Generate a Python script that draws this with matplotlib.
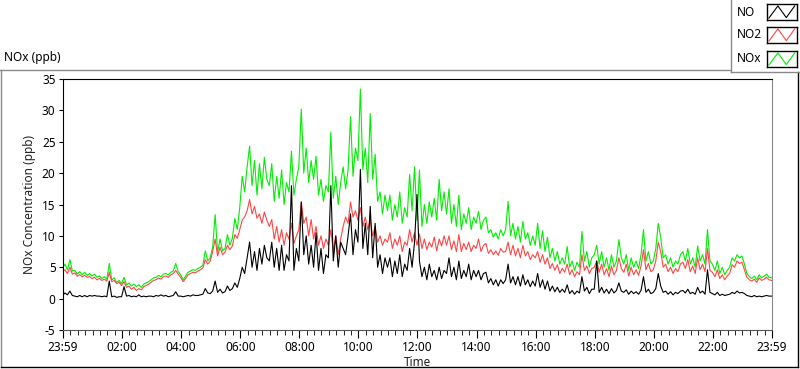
import numpy as np
import matplotlib
matplotlib.use("Agg")
from matplotlib import pyplot as plt
from matplotlib.lines import Line2D

plt.rcParams['font.family'] = ['Noto Sans', 'DejaVu Sans']
plt.rcParams['axes.unicode_minus'] = False

# 5-minute readings from 23:59 to 23:59 next day (289 samples), ppb
step_min = 5
nox_ppb = [
    4.8, 5.5, 4.6, 6.2, 4.4, 4.5, 3.9, 4.3, 3.8, 4.2, 3.7, 4.0,
    3.6, 3.9, 3.4, 3.6, 3.2, 3.5, 3.1, 5.6, 3.0, 3.3, 2.6, 2.9,
    2.4, 3.4, 2.2, 2.5, 2.0, 2.3, 1.9, 2.2, 1.8, 2.3, 2.5, 2.7,
    3.0, 3.3, 3.4, 3.7, 3.5, 3.9, 4.0, 3.8, 4.2, 4.4, 5.6, 4.3,
    3.8, 3.0, 3.6, 4.2, 4.4, 4.6, 4.5, 4.8, 5.0, 5.3, 7.6, 6.0,
    6.5, 8.2, 13.4, 7.4, 9.5, 7.6, 8.0, 10.2, 8.5, 9.6, 12.8, 11.0,
    14.5, 19.5, 17.0, 21.0, 24.3, 18.0, 22.0, 16.5, 21.5, 17.5, 22.5, 19.0,
    18.0, 21.5, 15.5, 19.5, 16.0, 20.5, 15.0, 18.5, 17.0, 23.5, 16.5, 19.0,
    21.0, 30.2, 20.0, 24.0, 18.5, 22.0, 19.0, 22.7, 16.5, 19.0, 15.5, 18.0,
    17.0, 26.5, 16.0, 19.5, 15.0, 18.5, 21.0, 17.5, 20.5, 29.0, 19.5, 24.0,
    22.0, 33.4, 20.5, 24.0, 18.5, 29.5, 19.0, 23.0, 15.5, 17.0, 13.5, 16.5,
    14.0, 16.5, 12.5, 15.0, 13.0, 17.0, 12.0, 14.5, 13.0, 19.8, 14.0, 21.0,
    12.5, 20.5, 11.5, 15.0, 12.0, 15.4, 13.0, 16.0, 12.5, 19.0, 14.0, 17.0,
    13.5, 17.5, 12.0, 15.0, 11.5, 16.5, 11.0, 13.5, 12.0, 14.5, 11.0, 13.0,
    12.0, 13.9, 11.0, 12.5, 13.0, 10.5, 11.0, 9.8, 10.5, 9.5, 11.0, 10.0,
    11.0, 15.5, 10.0, 12.0, 9.5, 11.5, 9.0, 12.3, 9.5, 10.5, 8.5, 10.0,
    8.5, 12.0, 8.0, 10.8, 7.5, 9.8, 6.5, 8.0, 6.0, 7.5, 5.5, 6.5,
    5.5, 8.3, 5.0, 6.0, 4.5, 5.8, 5.0, 10.7, 6.0, 7.5, 5.0, 6.5,
    7.0, 8.5, 5.5, 7.5, 5.0, 6.5, 4.5, 7.0, 5.0, 6.0, 9.4, 6.5,
    5.5, 7.0, 4.5, 6.5, 5.0, 6.0, 4.8, 7.0, 11.0, 6.0, 7.5, 5.5,
    6.0, 8.0, 12.0, 9.8, 6.5, 7.0, 5.5, 6.5, 5.0, 6.0, 5.5, 7.0,
    7.5, 6.0, 8.0, 5.5, 6.5, 5.0, 8.4, 6.0, 7.0, 5.5, 11.0, 6.0,
    5.5, 4.5, 6.0, 4.0, 5.0, 3.8, 4.5, 5.0, 6.5, 6.0, 7.0, 6.5,
    6.8, 5.5, 4.0, 3.5, 3.2, 3.6, 3.0, 3.8, 3.3, 3.6, 3.9, 3.4,
    3.3,
]
no2_ppb = [
    4.3, 4.6, 4.0, 5.0, 3.9, 4.1, 3.6, 3.8, 3.5, 3.7, 3.4, 3.5,
    3.2, 3.4, 3.0, 3.2, 2.9, 3.1, 2.8, 4.2, 2.7, 2.9, 2.4, 2.6,
    2.1, 2.7, 1.8, 2.0, 1.5, 1.8, 1.3, 1.6, 1.4, 1.9, 2.1, 2.3,
    2.6, 2.9, 3.0, 3.3, 3.1, 3.5, 3.6, 3.4, 3.8, 4.0, 4.5, 3.9,
    3.4, 2.7, 3.2, 3.8, 4.0, 4.2, 4.1, 4.4, 4.6, 4.9, 6.2, 5.5,
    6.0, 7.5, 9.5, 6.8, 8.2, 7.0, 7.4, 8.5, 7.8, 8.4, 10.2, 9.6,
    11.0, 12.5, 13.0, 14.0, 15.8, 13.5, 14.7, 12.8, 13.5, 12.0, 13.8, 12.5,
    11.5, 12.6, 9.5, 11.5, 9.0, 11.0, 8.5, 10.5, 9.5, 12.0, 8.8, 10.0,
    11.0, 15.4, 12.0, 13.0, 10.0, 12.6, 9.5, 11.5, 8.5, 10.0, 8.0, 9.5,
    8.5, 11.0, 7.5, 10.0, 7.0, 9.5, 11.5, 13.0, 12.0, 15.4, 13.0, 14.0,
    12.5, 14.5, 11.5, 13.0, 11.0, 12.6, 10.0, 11.5, 9.0, 10.0, 8.5, 9.5,
    9.0, 10.5, 8.0, 9.5, 8.5, 10.0, 7.5, 9.0, 8.5, 11.0, 9.0, 10.5,
    8.5, 10.3, 8.0, 9.5, 7.8, 9.0, 8.2, 9.8, 7.6, 9.5, 8.4, 10.0,
    8.5, 10.0, 7.8, 9.2, 7.5, 10.2, 7.5, 8.8, 7.8, 9.0, 7.5, 8.5,
    8.0, 9.5, 7.5, 8.5, 8.8, 7.2, 7.8, 7.0, 7.6, 6.9, 8.0, 7.4,
    7.5, 9.0, 7.0, 8.5, 6.8, 8.0, 6.5, 8.5, 6.8, 7.5, 6.2, 7.0,
    6.5, 7.5, 5.8, 7.0, 5.5, 6.5, 4.8, 5.6, 4.5, 5.4, 4.0, 4.8,
    4.2, 5.5, 3.8, 4.6, 3.5, 4.3, 3.8, 7.0, 4.5, 5.2, 4.0, 4.8,
    5.0, 6.0, 4.2, 5.5, 3.8, 4.8, 3.5, 5.2, 3.8, 4.5, 6.5, 4.8,
    4.2, 5.5, 3.6, 5.0, 3.8, 4.6, 3.7, 5.2, 7.8, 4.6, 5.6, 4.3,
    4.6, 6.0, 9.0, 7.5, 5.0, 5.5, 4.3, 5.0, 4.0, 4.8, 4.3, 5.5,
    5.8, 4.8, 6.2, 4.3, 5.2, 4.0, 6.5, 4.6, 5.5, 4.3, 8.0, 4.5,
    4.2, 3.5, 4.6, 3.2, 3.8, 3.0, 3.6, 4.0, 5.4, 5.0, 6.0, 5.6,
    5.8, 4.6, 3.4, 3.0, 2.8, 3.1, 2.6, 3.3, 2.9, 3.1, 3.4, 3.0,
    2.9,
]
no_ppb = [
    0.5, 0.9, 0.6, 1.2, 0.5, 0.4, 0.3, 0.5, 0.3, 0.5, 0.3, 0.5,
    0.4, 0.5, 0.4, 0.4, 0.3, 0.4, 0.3, 2.8, 0.3, 0.4, 0.2, 0.3,
    0.3, 1.9, 0.4, 0.5, 0.3, 0.4, 0.3, 0.6, 0.3, 0.4, 0.3, 0.4,
    0.4, 0.3, 0.5, 0.4, 0.6, 0.4, 0.5, 0.3, 0.4, 0.5, 1.1, 0.4,
    0.4, 0.3, 0.4, 0.5, 0.4, 0.6, 0.5, 0.5, 0.6, 0.7, 1.6, 0.9,
    0.8, 1.2, 2.8, 1.0, 1.5, 0.9, 1.1, 2.0, 1.3, 1.6, 2.5, 1.8,
    3.2, 5.0, 4.0, 6.5, 9.0, 5.0, 7.5, 4.5, 8.0, 5.5, 8.5, 6.5,
    6.0, 9.0, 5.0, 8.0, 4.5, 8.5, 4.5, 7.0, 6.0, 18.0, 4.5, 8.0,
    6.0, 15.4, 7.0, 10.0, 5.5, 8.5, 5.0, 10.5, 4.5, 8.0, 4.0, 7.0,
    6.5, 18.0, 6.0, 10.0, 5.0, 9.0, 8.0, 7.0, 10.0, 13.5, 7.0, 11.0,
    9.0, 20.6, 8.0, 12.0, 7.0, 14.7, 6.5, 12.0, 5.0, 7.0, 4.0, 6.5,
    5.0, 6.5, 3.5, 6.0, 4.0, 7.0, 3.5, 5.5, 4.5, 8.0, 5.0, 9.0,
    16.6, 6.0, 3.5, 5.0, 3.0, 5.5, 3.5, 4.5, 3.0, 5.0, 3.2, 4.5,
    4.0, 6.5, 3.5, 5.0, 3.0, 6.0, 3.2, 4.5, 3.5, 5.5, 3.0, 4.5,
    3.5, 4.5, 3.0, 4.0, 4.2, 2.5, 3.2, 2.2, 3.0, 2.0, 3.0, 2.4,
    3.0, 5.5, 2.5, 3.5, 2.2, 3.5, 2.0, 3.8, 2.2, 3.0, 1.9, 2.8,
    2.0, 4.0, 1.8, 3.0, 1.5, 2.8, 1.2, 2.0, 1.1, 1.8, 1.0, 1.5,
    1.0, 2.2, 0.8, 1.3, 0.7, 1.2, 0.9, 3.5, 1.2, 1.8, 0.8, 1.5,
    1.5, 6.0, 1.0, 1.8, 0.9, 1.5, 0.8, 1.6, 0.9, 1.3, 2.5, 1.2,
    1.0, 1.4, 0.7, 1.2, 0.8, 1.1, 0.7, 1.3, 3.5, 1.0, 1.5, 0.8,
    1.0, 1.6, 4.0, 2.0, 1.0, 1.2, 0.7, 1.1, 0.6, 1.0, 0.8, 1.2,
    1.3, 0.9, 1.5, 0.8, 1.0, 0.7, 1.8, 0.9, 1.2, 0.7, 4.6, 1.0,
    0.8, 0.6, 1.0, 0.5, 0.7, 0.5, 0.6, 0.7, 1.0, 0.8, 1.2, 0.9,
    1.0, 0.8, 0.5, 0.4, 0.3, 0.5, 0.3, 0.4, 0.3, 0.4, 0.5, 0.4,
    0.4,
]

# minutes since 23:59 at which the time labels sit
tick_minutes = [0, 121, 241, 361, 481, 601, 721, 841, 961, 1081, 1201, 1321, 1440]
tick_labels = ['23:59', '02:00', '04:00', '06:00', '08:00', '10:00', '12:00',
               '14:00', '16:00', '18:00', '20:00', '22:00', '23:59']
y_ticks = [-5, 0, 5, 10, 15, 20, 25, 30, 35]

series = [('NO', no_ppb, 'black'), ('NO2', no2_ppb, '#ff4646'), ('NOx', nox_ppb, '#00ee00')]

W, H = 800, 369
fig = plt.figure(figsize=(W / 100, H / 100), dpi=100)
fig.patch.set_facecolor('white')

def fx(px):
    return px / W

def fy(py):
    return 1 - py / H

ax = fig.add_axes([fx(62.5), fy(330), fx(771.5) - fx(62.5), fy(79) - fy(330)])
t = np.arange(len(nox_ppb)) * step_min
for name, vals, col in reversed(series):
    ax.plot(t, vals, color=col, lw=0.8)

ax.set_xlim(0, 1440)
ax.set_ylim(-5, 35)
ax.set_yticks(y_ticks)
ax.set_xticks(tick_minutes, tick_labels)
ax.set_xticks(list(range(1, 1440, 15)), minor=True)
ax.tick_params(axis='both', labelsize=8.5, colors='black', width=0.8)
ax.tick_params(axis='x', which='major', length=6, pad=2)
ax.tick_params(axis='x', which='minor', length=3.5)
ax.tick_params(axis='y', length=3, pad=2)
for s in ['left', 'top']:
    ax.spines[s].set_color('black')
ax.spines['right'].set_color('#8a8a8a')
ax.spines['bottom'].set_color('#555555')
ax.set_xlabel('Time', fontsize=8.5, labelpad=1, color='#222222')
ax.set_ylabel('NOx Concentration (ppb)', fontsize=8.5, labelpad=4, color='#222222')

fig.text(fx(4), fy(57), 'NOx (ppb)', fontsize=8.5, va='center', ha='left')

# outer frame (sunken look)
fig.add_artist(Line2D([fx(0), fx(730)], [fy(70), fy(70)], color='#8a8a8a', lw=1))
fig.add_artist(Line2D([fx(1), fx(1)], [fy(70), fy(367)], color='#8a8a8a', lw=1))
fig.add_artist(Line2D([fx(1), fx(798)], [fy(367), fy(367)], color='black', lw=1))
fig.add_artist(Line2D([fx(797.5), fx(797.5)], [fy(72), fy(367)], color='black', lw=1))

# legend panel
fig.add_artist(Line2D([fx(730.5), fx(730.5)], [fy(0), fy(71.5)], color='#8a8a8a', lw=1))
fig.add_artist(Line2D([fx(730.5), fx(800)], [fy(71.5), fy(71.5)], color='#8a8a8a', lw=1))
swatch_y = [4, 27, 51]
for (name, vals, col), top in zip(series, swatch_y):
    fig.text(fx(737), fy(top + 8), name, fontsize=8.5, va='center', ha='left')
    sax = fig.add_axes([fx(766.5), fy(top + 16), fx(30), fy(0) - fy(16)])
    sax.set_xlim(0, 1)
    sax.set_ylim(0, 1)
    sax.plot([0.08, 0.38, 0.66, 0.94], [0.12, 0.88, 0.15, 0.88], color=col, lw=0.8)
    sax.set_xticks([])
    sax.set_yticks([])
    for s in sax.spines.values():
        s.set_color('black')
        s.set_linewidth(1)

fig.savefig('out.png', dpi=100, facecolor='white')
